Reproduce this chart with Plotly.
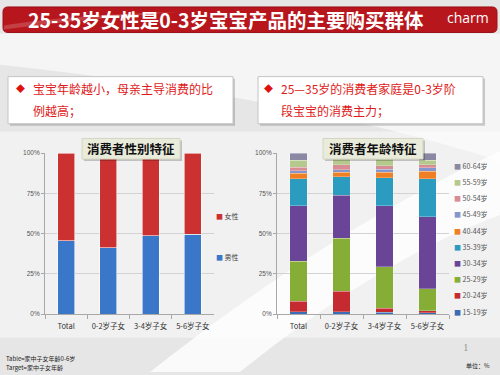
import plotly.graph_objects as go

# ---------------- data ----------------
categories = ["Total", "0-2岁子女", "3-4岁子女", "5-6岁子女"]

gender_labels = ["男性", "女性"]
male = [45.6, 41.2, 48.7, 49.7]
female = [54.4, 58.8, 51.3, 50.3]

age_groups = ["15-19岁", "20-24岁", "25-29岁", "30-34岁", "35-39岁",
              "40-44岁", "45-49岁", "50-54岁", "55-59岁", "60-64岁"]
age_15_19 = [1.6, 1.4, 1.0, 0.8]
age_20_24 = [6.5, 12.8, 2.7, 1.2]
age_25_29 = [24.8, 32.9, 25.7, 13.6]
age_30_34 = [34.4, 26.9, 37.9, 44.8]
age_35_39 = [16.9, 11.2, 17.5, 23.8]
age_40_44 = [3.4, 3.0, 3.4, 4.6]
age_45_49 = [1.6, 1.5, 1.7, 2.1]
age_50_54 = [2.1, 3.0, 2.4, 1.8]
age_55_59 = [4.4, 3.6, 4.0, 3.0]
age_60_64 = [4.3, 3.7, 3.7, 4.3]
age_series = [age_15_19, age_20_24, age_25_29, age_30_34, age_35_39,
              age_40_44, age_45_49, age_50_54, age_55_59, age_60_64]

y_ticks = [0, 25, 50, 75, 100]
y_ticktext = ["0%", "25%", "50%", "75%", "100%"]

title_text = "25-35岁女性是0-3岁宝宝产品的主要购买群体"
box_left = ["宝宝年龄越小，母亲主导消费的比", "例越高；"]
box_right = ["25—35岁的消费者家庭是0-3岁阶", "段宝宝的消费主力；"]
chart_titles = ["消费者性别特征", "消费者年龄特征"]
footer_lines = ["Table=家中子女年龄0-6岁", "Target=家中子女年龄"]

# ---------------- styles ----------------
W, H = 500, 375
FONT = "Noto Sans CJK SC"
gender_colors = {"男性": "#3a77c9", "女性": "#cc3131"}
age_colors = ["#3a6db5", "#c52a30", "#86ad36", "#6a4597", "#2b9cbf",
              "#ef7f25", "#8497cc", "#d88c96", "#b5c98d", "#8b88a3"]


def px(x):
    return x / W


def py(y):
    return 1 - y / H


fig = go.Figure()

for name, vals in zip(gender_labels, [male, female]):
    fig.add_trace(go.Bar(
        x=categories, y=vals, name=name, xaxis="x", yaxis="y",
        marker=dict(color=gender_colors[name],
                    line=dict(color="rgba(255,255,255,0.7)", width=0.8)),
        showlegend=False, width=0.4))

for name, vals, col in zip(age_groups, age_series, age_colors):
    fig.add_trace(go.Bar(
        x=categories, y=vals, name=name, xaxis="x2", yaxis="y2",
        marker=dict(color=col, line=dict(color="rgba(255,255,255,0.5)", width=0.5)),
        showlegend=False, width=0.4))

shapes = []
annotations = []

# background swooshes
shapes.append(dict(type="path", xref="paper", yref="paper", layer="below",
                   path=f"M {px(0)},{py(30)} L {px(500)},{py(30)} L {px(500)},{py(160)} "
                        f"Q {px(300)},{py(95)} {px(0)},{py(62)} Z",
                   fillcolor="rgba(255,255,255,0.6)", line_width=0))
shapes.append(dict(type="path", xref="paper", yref="paper", layer="below",
                   path=f"M {px(0)},{py(130)} L {px(500)},{py(130)} L {px(500)},{py(340)} "
                        f"L {px(0)},{py(340)} Z",
                   fillcolor="rgba(255,255,255,0.45)", line_width=0))
shapes.append(dict(type="path", xref="paper", yref="paper", layer="below",
                   path=f"M {px(150)},{py(375)} L {px(240)},{py(375)} "
                        f"Q {px(380)},{py(260)} {px(500)},{py(215)} L {px(500)},{py(150)} "
                        f"Q {px(330)},{py(230)} {px(150)},{py(375)} Z",
                   fillcolor="rgba(255,255,255,0.8)", line_width=0))

# header banner
r = 5
x0, y0, x1, y1 = 3, 3, 497, 29
shapes.append(dict(type="path", xref="paper", yref="paper", layer="above",
                   path=(f"M {px(x0 + r)},{py(y0)} L {px(x1 - r)},{py(y0)} "
                         f"Q {px(x1)},{py(y0)} {px(x1)},{py(y0 + r)} L {px(x1)},{py(y1 - r)} "
                         f"Q {px(x1)},{py(y1)} {px(x1 - r)},{py(y1)} L {px(x0 + r)},{py(y1)} "
                         f"Q {px(x0)},{py(y1)} {px(x0)},{py(y1 - r)} L {px(x0)},{py(y0 + r)} "
                         f"Q {px(x0)},{py(y0)} {px(x0 + r)},{py(y0)} Z"),
                   fillcolor="#b8161d", line=dict(color="#9c1017", width=1)))
shapes.append(dict(type="path", xref="paper", yref="paper", layer="above",
                   path=f"M {px(4)},{py(22)} Q {px(60)},{py(12)} {px(180)},{py(8)} "
                        f"Q {px(80)},{py(16)} {px(4)},{py(26)} Z",
                   fillcolor="rgba(255,255,255,0.18)", line_width=0))
annotations.append(dict(text=title_text, x=px(226), y=py(16), xref="paper", yref="paper",
                        showarrow=False, xanchor="center", yanchor="middle",
                        font=dict(family=FONT, size=19.5, color="white", weight="bold")))
annotations.append(dict(text="charm", x=px(468), y=py(14), xref="paper", yref="paper",
                        showarrow=False, xanchor="center", yanchor="middle",
                        font=dict(family="Open Sans", size=14, color="white")))

# text boxes
for (bx0, bx1), lines, bullet_x in [((8, 233), box_left, 20), ((258, 483), box_right, 268)]:
    shapes.append(dict(type="rect", xref="paper", yref="paper", layer="above",
                       x0=px(bx0 + 2), x1=px(bx1 + 2), y0=py(76), y1=py(124),
                       fillcolor="rgba(0,0,0,0.18)", line_width=0))
    shapes.append(dict(type="rect", xref="paper", yref="paper", layer="above",
                       x0=px(bx0), x1=px(bx1), y0=py(74), y1=py(122),
                       fillcolor="white", line=dict(color="#c4c4c4", width=1)))
    annotations.append(dict(text="◆", x=px(bullet_x), y=py(86), xref="paper", yref="paper",
                            showarrow=False, xanchor="center", yanchor="middle",
                            font=dict(family=FONT, size=9, color="#e01010")))
    for i, ln in enumerate(lines):
        annotations.append(dict(text=ln, x=px(bullet_x + 11), y=py(86 + 23 * i),
                                xref="paper", yref="paper", showarrow=False,
                                xanchor="left", yanchor="middle",
                                font=dict(family=FONT, size=12, color="#e01818")))

# chart title boxes
for (tx0, tx1), t in zip([(82, 180), (323, 423)], chart_titles):
    shapes.append(dict(type="rect", xref="paper", yref="paper", layer="above",
                       x0=px(tx0 + 2), x1=px(tx1 + 2), y0=py(139), y1=py(160),
                       fillcolor="rgba(0,0,0,0.2)", line_width=0))
    shapes.append(dict(type="rect", xref="paper", yref="paper", layer="above",
                       x0=px(tx0), x1=px(tx1), y0=py(137), y1=py(158),
                       fillcolor="#e9ebdb", line=dict(color="#d4d6c2", width=1)))
    annotations.append(dict(text=t, x=px((tx0 + tx1) / 2), y=py(147.5), xref="paper",
                            yref="paper", showarrow=False, xanchor="center", yanchor="middle",
                            font=dict(family=FONT, size=12.5, color="#111", weight="bold")))

# legends (as text with colored squares)
for name, ypos in zip(["女性", "男性"], [216, 258]):
    annotations.append(dict(
        text=f"<span style='color:{gender_colors[name]}'>■</span> {name}",
        x=px(214), y=py(ypos), xref="paper", yref="paper", showarrow=False,
        xanchor="left", yanchor="middle", font=dict(family=FONT, size=7, color="#444")))
for i, (name, col) in enumerate(zip(age_groups[::-1], age_colors[::-1])):
    annotations.append(dict(
        text=f"<span style='color:{col}'>■</span> {name}",
        x=px(452), y=py(165 + i * 16.5), xref="paper", yref="paper", showarrow=False,
        xanchor="left", yanchor="middle", font=dict(family=FONT, size=7, color="#555")))

# footer
for i, ln in enumerate(footer_lines):
    annotations.append(dict(text=ln, x=px(4), y=py(361 + 9 * i), xref="paper", yref="paper",
                            showarrow=False, xanchor="left", yanchor="middle",
                            font=dict(family=FONT, size=6, color="#222")))
annotations.append(dict(text="单位：%", x=px(492), y=py(368), xref="paper", yref="paper",
                        showarrow=False, xanchor="right", yanchor="middle",
                        font=dict(family=FONT, size=6, color="#222")))
annotations.append(dict(text="1", x=px(466), y=py(350), xref="paper", yref="paper",
                        showarrow=False, xanchor="center", yanchor="middle",
                        font=dict(family="Liberation Serif", size=11, color="#999")))

xcommon = dict(type="category", showline=True, linecolor="#a8a8a8", linewidth=1,
               ticks="outside", tickson="boundaries", ticklen=4, tickcolor="#a8a8a8",
               tickangle=0, ticklabelstandoff=5,
               tickfont=dict(family=FONT, size=7.5, color="#333"), showgrid=False)
ycommon = dict(range=[0, 100], tickvals=y_ticks, ticktext=y_ticktext, showline=True,
               linecolor="#a8a8a8", linewidth=1, ticks="outside", ticklen=3,
               tickcolor="#a8a8a8", showgrid=True, gridcolor="#d2d2d2", gridwidth=1,
               tickfont=dict(family="Liberation Sans", size=6.5, color="#555"),
               zeroline=False, fixedrange=True)

fig.update_layout(
    width=W, height=H, autosize=False,
    margin=dict(l=0, r=0, t=0, b=0),
    paper_bgcolor="#e6e6e6", plot_bgcolor="rgba(0,0,0,0)",
    barmode="stack", showlegend=False,
    xaxis=dict(domain=[px(45), px(214)], anchor="y", **xcommon),
    yaxis=dict(domain=[py(316), py(152)], anchor="x", **ycommon),
    xaxis2=dict(domain=[px(277), px(449)], anchor="y2", **xcommon),
    yaxis2=dict(domain=[py(316), py(152)], anchor="x2", **ycommon),
    shapes=shapes, annotations=annotations,
)

fig.write_html(
    "out.html",
    config={"responsive": False, "displayModeBar": False},
    post_script="document.body.style.margin='0';document.body.style.overflow='hidden';",
)
